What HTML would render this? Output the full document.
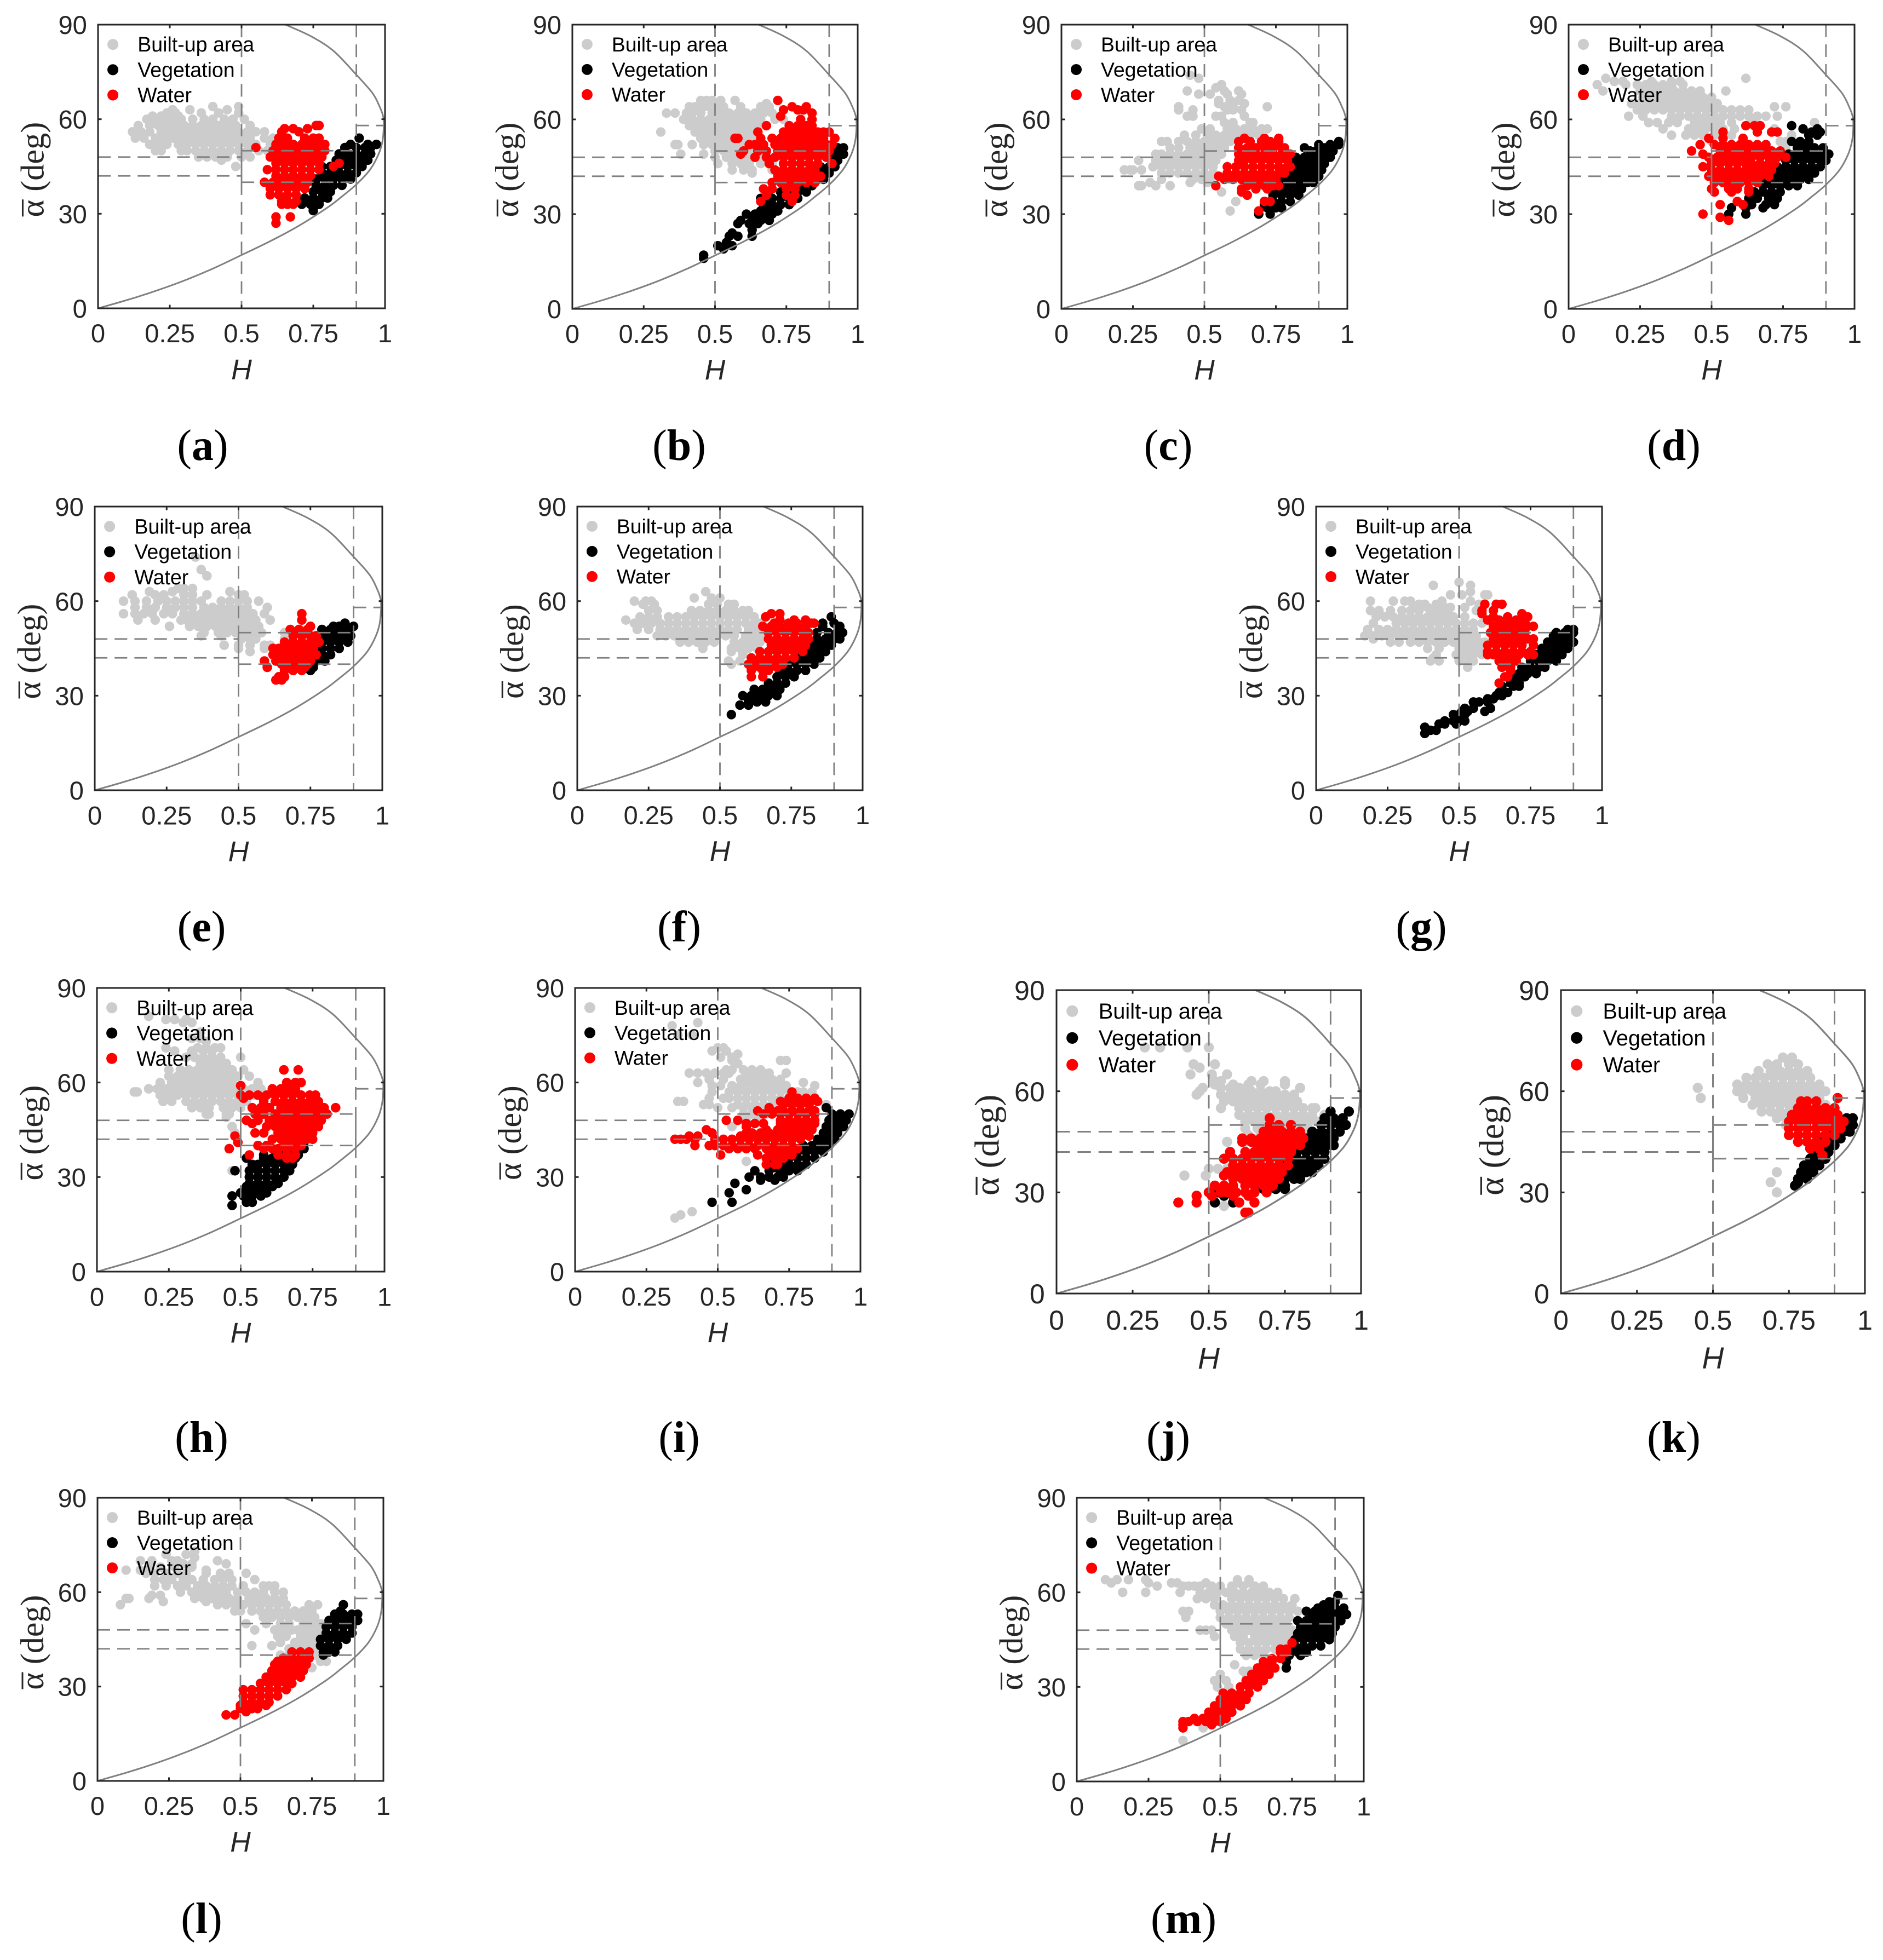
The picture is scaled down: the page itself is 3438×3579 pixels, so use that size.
<!DOCTYPE html>
<html><head><meta charset="utf-8"><title>H-alpha scatter panels</title>
<style>html,body{margin:0;padding:0;background:#fff}svg{display:block}</style></head>
<body>
<svg id="chart" xmlns="http://www.w3.org/2000/svg" width="3438" height="3579" viewBox="0 0 3438 3579"></svg>
<script>
// Every series is a flat list of pairs: H (x100), mean alpha (deg), H, alpha, ...
const builtA=[40,64,49,64,32,63,26,63,45,63,24,62,27,62,36,62,42,62,49,62,19,61,22,61,25,61,28,61,17,60,20,60,23,60,26,60,29,60,33,60,37,60,40,60,44,60,47,60,51,60,14,58,18,58,21,58,24,58,27,58,30,58,33,58,36,58,39,58,42,58,45,58,48,58,53,58,12,56,15,56,18,56,22,56,25,56,28,56,31,56,34,56,37,56,40,56,43,56,46,56,49,56,52,56,55,56,58,56,13,54,16,54,20,54,23,54,26,54,29,54,32,54,35,54,38,54,41,54,44,54,47,54,50,54,53,54,58,54,61,54,18,52,21,52,24,52,28,52,31,52,34,52,37,52,40,52,43,52,46,52,49,52,52,52,55,52,60,52,20,50,22,50,29,50,31,50,34,50,37,50,40,50,43,50,46,50,49,50,52,50,56,50,59,50,35,48,38,48,41,48,45,48,50,48,53,48,43,47,48,45];
const vegA=[91,54,88,52,94,52,97,52,86,51,90,51,93,51,95,51,84,49,87,49,90,49,93,49,95,49,83,47,86,47,89,47,92,47,94,47,78,45,81,45,84,45,87,45,90,45,92,45,78,43,81,43,84,43,87,43,90,43,76,41,79,41,82,41,85,41,88,41,76,39,79,39,82,39,85,39,75,37,78,37,81,37,72,35,75,35,78,35,80,35,71,33,74,33,77,33,75,31];
const waterA=[76,58,77,58,65,57,68,57,73,57,64,56,70,56,63,54,66,54,72,54,75,54,77,54,62,52,65,52,68,52,71,52,74,52,77,52,79,52,55,51,61,50,64,50,67,50,70,50,73,50,76,50,79,50,60,48,63,48,66,48,69,48,72,48,75,48,78,48,62,46,65,46,68,46,71,46,74,46,77,46,84,46,59,44,62,44,65,44,68,44,71,44,74,44,77,44,82,45,62,42,65,42,68,42,71,42,74,42,58,40,61,40,64,40,67,40,70,40,73,40,60,38,63,38,66,38,69,38,72,38,60,36,63,36,66,36,69,36,64,34,66,34,69,34,64,33,66,33,68,33,62,29,67,29,62,27];
const builtB=[45,66,47,66,49,66,52,66,57,66,47,65,68,65,41,64,43,64,46,64,48,64,51,64,53,64,59,64,66,64,69,64,33,62,36,62,40,62,42,62,45,62,49,62,52,62,55,62,58,62,61,62,64,62,67,62,70,62,39,60,42,60,45,60,48,60,51,60,54,60,57,60,60,60,63,60,66,60,71,60,74,60,41,58,44,58,47,58,50,58,53,58,56,58,59,58,62,58,65,58,68,58,31,56,43,56,46,56,49,56,52,56,55,56,58,56,61,56,64,56,45,54,48,54,51,54,54,54,57,54,60,54,63,54,36,52,37,52,42,52,46,52,49,52,52,52,55,52,58,52,61,52,66,52,50,50,53,50,56,50,59,50,63,50,38,49,46,49,50,48,54,48,57,48,60,48,63,48,66,48,51,46,56,46,59,46,62,46,66,46,70,46,56,44,60,44,63,44,70,44,63,43];
const vegB=[93,51,95,51,92,49,95,49,91,47,93,47,84,45,87,45,90,45,92,45,82,43,85,43,88,43,90,43,80,41,83,41,86,41,88,41,78,39,81,39,84,39,73,37,76,37,79,37,82,37,66,35,68,35,70,35,73,35,76,35,79,35,67,33,70,33,73,33,76,33,66,31,69,31,72,31,61,30,64,30,67,30,70,30,59,28,63,28,66,28,69,28,58,27,62,27,65,27,63,25,56,24,55,23,58,23,63,23,54,21,51,20,56,20,53,19,46,17,46,16];
const waterB=[72,66,77,64,82,64,74,63,79,63,81,63,84,62,73,61,80,60,84,60,68,58,76,58,79,58,82,58,84,58,65,56,74,56,77,56,80,56,83,56,86,56,88,56,90,56,57,54,58,54,66,54,70,54,73,54,76,54,79,54,82,54,85,54,88,54,92,54,62,52,64,52,67,52,71,52,74,52,77,52,80,52,83,52,86,52,89,52,91,52,60,50,65,50,68,50,72,50,75,50,78,50,81,50,84,50,87,50,90,50,59,49,64,48,68,48,71,48,74,48,77,48,80,48,83,48,86,48,89,48,69,46,74,46,77,46,80,46,83,46,86,46,91,46,71,44,74,44,77,44,80,44,83,44,85,44,72,42,75,42,78,42,81,42,84,42,87,42,70,40,73,40,76,40,79,40,82,40,85,40,67,38,70,38,75,38,78,38,68,36,75,36,78,36,66,34,77,34];
const builtC=[45,74,48,73,56,71,54,70,44,69,57,69,62,69,48,68,52,68,58,68,63,68,55,66,59,66,62,66,64,65,55,65,41,64,57,64,60,64,72,64,41,63,46,63,58,63,60,63,63,63,44,61,46,61,54,61,56,61,64,61,57,59,60,59,66,59,67,59,49,57,52,57,58,57,61,57,64,57,67,57,70,57,72,57,43,55,47,55,51,55,54,55,57,55,60,55,63,55,66,55,69,55,35,53,37,53,41,53,44,53,47,53,50,53,53,53,56,53,59,53,38,51,41,51,45,51,48,51,51,51,54,51,57,51,33,49,35,49,38,49,41,49,44,49,47,49,50,49,53,49,56,49,27,47,33,47,36,47,39,47,42,47,45,47,48,47,51,47,54,47,32,45,35,45,38,45,41,45,44,45,47,45,50,45,53,45,22,44,24,44,25,44,28,44,35,43,38,43,41,43,44,43,47,43,50,43,53,43,35,41,46,41,49,41,52,41,31,40,45,40,51,40,27,39,28,39,33,39,38,39,56,37,61,34,59,31];
const vegC=[97,53,90,52,94,52,97,52,85,51,92,51,95,51,87,50,89,50,92,50,95,50,82,48,85,48,88,48,91,48,94,48,81,46,84,46,87,46,90,46,92,46,79,44,82,44,85,44,88,44,91,44,78,42,81,42,84,42,87,42,90,42,77,40,80,40,83,40,86,40,88,40,75,38,78,38,81,38,84,38,74,36,77,36,80,36,83,36,71,34,74,34,77,34,80,34,71,33,72,32,75,32,77,32,69,30,73,30];
const waterC=[76,54,64,54,71,54,62,53,66,53,70,53,73,53,76,53,62,51,65,51,68,51,71,51,74,51,77,51,78,51,62,49,65,49,68,49,71,49,74,49,77,49,79,49,80,49,62,47,64,47,67,47,70,47,73,47,76,47,79,47,58,45,61,45,64,45,67,45,70,45,73,45,76,45,79,45,80,45,58,43,61,43,64,43,67,43,70,43,73,43,76,43,78,43,55,42,57,41,60,41,63,41,66,41,69,41,72,41,75,41,54,39,65,39,68,39,71,39,74,39,76,39,63,38,68,38,72,38,63,37,65,36,71,34,73,34,69,31];
const builtD=[13,73,62,73,16,72,19,72,29,72,36,72,39,72,10,71,20,71,24,71,27,71,30,71,33,71,36,71,40,71,12,69,25,69,28,69,31,69,34,69,37,69,40,69,43,69,46,69,55,69,26,67,29,67,32,67,35,67,38,67,41,67,44,67,47,67,50,67,22,65,25,65,28,65,31,65,34,65,37,65,40,65,43,65,46,65,49,65,52,65,72,64,76,64,24,63,27,63,30,63,33,63,36,63,39,63,42,63,45,63,48,63,51,63,54,63,57,63,60,63,63,63,21,61,26,61,36,61,39,61,42,61,45,61,48,61,51,61,54,61,57,61,60,61,63,61,66,61,73,61,69,61,28,59,31,59,35,59,38,59,44,59,47,59,50,59,53,59,57,59,64,59,65,59,86,59,33,57,42,57,45,57,48,57,51,57,54,57,58,57,72,57,36,55,41,55,44,55,47,55,51,55,57,55,84,55,78,55,50,53,74,53,76,53,76,51];
const vegD=[78,58,82,57,87,57,85,56,88,56,84,55,87,55,78,53,81,53,84,53,80,51,83,51,86,51,89,51,77,49,80,49,83,49,86,49,89,49,91,49,76,47,79,47,82,47,85,47,88,47,90,47,73,45,76,45,79,45,82,45,85,45,88,45,71,43,74,43,77,43,80,43,83,43,86,43,69,41,72,41,75,41,78,41,81,41,84,41,68,39,71,39,74,39,77,39,80,39,65,37,68,37,71,37,74,37,63,35,66,35,70,35,73,35,64,33,69,33,72,33,57,32,62,32,68,32,62,30,56,30];
const waterD=[65,58,62,58,67,58,71,56,73,56,66,56,54,56,54,54,61,54,49,54,46,52,51,52,54,52,57,52,60,52,63,52,66,52,69,52,43,50,53,50,56,50,59,50,62,50,65,50,68,50,71,50,74,50,47,49,49,48,52,48,55,48,58,48,61,48,64,48,67,48,70,48,73,48,76,48,50,46,53,46,56,46,59,46,62,46,64,46,67,46,70,46,72,46,47,45,50,44,53,44,56,44,59,44,62,44,65,44,68,44,71,44,49,42,52,42,55,42,58,42,61,42,64,42,67,42,70,42,51,40,54,40,57,40,60,40,63,40,66,40,50,38,56,38,59,38,63,38,51,37,57,37,63,37,59,34,61,33,53,33,47,30,53,29,56,28];
const builtE=[35,74,37,70,39,68,29,64,31,64,34,64,19,63,27,63,47,63,13,62,21,62,24,62,31,62,34,62,39,62,50,62,52,62,10,60,14,60,18,60,22,60,25,60,28,60,31,60,34,60,37,60,44,60,47,60,50,60,53,60,57,60,14,58,18,58,21,58,25,58,28,58,31,58,34,58,38,58,41,58,44,58,47,58,50,58,53,58,60,58,10,56,14,56,17,56,20,56,24,56,27,56,31,56,34,56,37,56,40,56,43,56,46,56,49,56,52,56,55,56,59,56,15,54,21,54,30,54,32,54,35,54,38,54,41,54,44,54,47,54,50,54,53,54,56,54,61,54,26,52,33,52,36,52,39,52,42,52,45,52,48,52,51,52,54,52,57,52,38,50,43,50,46,50,49,50,52,50,55,50,58,50,66,50,37,49,44,49,51,48,54,48,56,48,66,48,45,46,50,46,54,46,59,46,61,46,50,45,59,45,54,44];
const vegE=[87,53,83,52,85,52,90,52,79,51,82,51,85,51,88,51,77,49,80,49,83,49,86,49,89,49,76,47,79,47,82,47,85,47,88,47,76,45,79,45,82,45,85,45,76,43,79,43,82,43,74,41,77,41,80,41,73,39,76,39,75,38];
const waterE=[72,56,72,54,75,52,68,51,71,51,74,51,69,49,72,49,75,49,77,49,66,47,69,47,72,47,75,47,78,47,62,45,64,45,67,45,70,45,73,45,76,45,62,43,65,43,68,43,71,43,74,43,77,43,59,41,63,41,66,41,69,41,72,41,75,41,65,40,68,40,71,40,74,40,60,39,67,39,70,39,73,39,66,38,69,38,72,38,64,36,66,36,63,35,65,35];
const builtF=[45,63,41,61,47,61,50,61,20,60,24,60,26,60,23,59,27,59,46,59,49,59,53,59,55,59,25,57,28,57,40,57,43,57,46,57,49,57,52,57,55,57,58,57,60,57,22,55,25,55,28,55,32,55,35,55,38,55,41,55,44,55,47,55,50,55,53,55,56,55,59,55,62,55,17,54,20,53,23,53,26,53,29,53,32,53,35,53,38,53,41,53,44,53,47,53,50,53,53,53,56,53,59,53,62,53,64,53,21,51,25,51,29,51,32,51,35,51,38,51,41,51,44,51,47,51,50,51,53,51,56,51,60,51,63,51,28,49,31,49,34,49,37,49,40,49,43,49,46,49,49,49,52,49,55,49,59,49,62,49,65,49,36,47,39,47,42,47,45,47,48,47,55,47,58,47,61,47,64,47,44,46,44,45,54,45,57,45,60,45,63,45,54,44,58,43,53,41,57,41,54,40];
const vegF=[89,55,86,53,90,53,86,52,92,52,84,50,88,50,91,50,93,50,81,48,84,48,87,48,90,48,92,48,80,46,83,46,86,46,89,46,78,44,81,44,84,44,87,44,76,42,79,42,82,42,85,42,74,40,77,40,80,40,83,40,71,38,74,38,77,38,80,38,70,36,73,36,76,36,67,34,70,34,73,34,62,32,65,32,68,32,71,32,58,30,61,30,64,30,67,30,70,30,60,28,63,28,66,28,57,27,60,27,54,24];
const waterF=[68,56,71,56,66,55,71,54,76,54,80,54,69,53,74,53,77,53,83,53,82,53,65,52,68,52,71,52,74,52,77,52,80,52,67,50,70,50,73,50,76,50,79,50,81,50,67,48,70,48,73,48,76,48,79,48,81,48,68,46,71,46,74,46,77,46,80,46,64,44,67,44,70,44,73,44,76,44,79,44,61,42,64,42,67,42,70,42,73,42,76,42,60,40,63,40,66,40,69,40,72,40,61,39,64,39,67,39,70,39,61,38,65,38,67,38,61,36,65,36];
const builtG=[50,66,54,65,41,65,54,63,47,62,51,62,59,62,60,62,19,60,27,60,31,60,33,60,44,60,54,60,36,59,38,59,42,59,57,59,34,58,39,58,42,58,45,58,47,58,52,58,19,57,22,57,26,57,30,57,33,57,36,57,40,57,43,57,46,57,56,57,21,55,24,55,27,55,30,55,33,55,36,55,39,55,42,55,45,55,48,55,52,55,20,53,28,53,31,53,34,53,37,53,40,53,43,53,46,53,49,53,52,53,55,53,58,53,18,51,22,51,25,51,28,51,31,51,34,51,37,51,40,51,43,51,46,51,49,51,52,51,55,51,17,49,20,49,23,49,26,49,29,49,32,49,35,49,38,49,41,49,44,49,47,49,50,49,53,49,56,49,20,48,26,47,29,47,33,47,36,47,39,47,42,47,45,47,48,47,51,47,54,47,57,47,59,47,39,45,43,45,50,45,53,45,56,45,59,45,42,43,49,43,52,43,55,43,58,43,41,42,40,41,43,41,50,41,53,41,55,41,53,39];
const vegG=[88,51,90,51,84,50,87,50,90,50,83,49,86,49,89,49,81,47,84,47,87,47,90,47,79,45,82,45,85,45,88,45,77,43,80,43,83,43,86,43,75,41,78,41,81,41,84,41,72,39,75,39,78,39,80,39,71,37,74,37,77,37,70,36,73,36,68,34,71,34,65,33,69,33,71,33,64,31,67,31,63,30,65,30,60,29,62,29,55,28,57,28,60,28,52,26,55,26,61,26,51,25,53,25,59,25,48,24,50,24,52,24,45,22,48,22,50,22,52,22,43,21,45,21,49,21,38,20,42,19,40,19,38,18];
const waterG=[59,59,63,59,65,59,58,57,62,57,58,56,72,56,62,55,67,55,74,55,60,54,64,54,67,54,70,54,73,54,62,52,65,52,68,52,71,52,74,52,76,52,61,50,64,50,67,50,70,50,73,50,62,48,65,48,68,48,71,48,74,48,76,48,60,46,63,46,66,46,69,46,72,46,76,46,60,44,63,44,66,44,69,44,72,44,75,44,60,43,62,43,65,43,68,43,71,43,74,43,76,43,64,41,67,41,70,41,65,39,68,39,68,38,66,36,67,36,64,34];
const builtH=[18,81,24,80,27,80,31,80,30,79,33,79,36,76,33,74,36,74,38,73,24,71,35,71,38,71,41,71,43,71,27,70,33,70,37,70,40,70,31,68,34,68,37,68,40,68,43,68,50,68,36,66,39,66,42,66,45,66,25,64,29,64,32,64,35,64,38,64,41,64,44,64,47,64,51,64,25,62,28,62,31,62,34,62,37,62,40,62,43,62,46,62,49,62,53,62,22,60,26,60,29,60,32,60,35,60,38,60,41,60,44,60,47,60,56,60,18,58,21,58,24,58,27,58,30,58,33,58,36,58,39,58,42,58,45,58,48,58,51,58,54,58,57,58,13,57,14,57,22,56,25,56,28,56,31,56,34,56,37,56,40,56,43,56,46,56,49,56,52,56,55,56,23,54,26,54,31,54,34,54,37,54,40,54,43,54,46,54,49,54,52,54,33,52,36,52,39,52,44,52,47,52,50,52,38,50,39,50,45,50,46,50,45,49,47,46,48,44,47,32];
const vegH=[72,41,67,39,70,39,72,39,58,37,64,37,67,37,70,37,52,36,58,36,61,36,64,36,67,36,69,36,54,34,56,34,59,34,62,34,65,34,68,34,48,32,53,32,56,32,59,32,62,32,65,32,67,32,53,30,56,30,59,30,62,30,65,30,53,28,56,28,59,28,62,28,63,28,52,27,55,27,58,27,61,27,50,25,53,25,56,25,59,25,47,24,51,24,54,24,57,24,52,22,54,22,47,21];
const waterH=[65,64,70,64,66,60,69,60,71,60,50,59,61,58,64,58,67,58,69,58,53,56,50,56,56,56,59,56,62,56,65,56,68,56,71,56,74,56,76,56,51,55,58,54,62,54,65,54,68,54,71,54,74,54,77,54,54,52,57,52,60,52,64,52,67,52,70,52,73,52,76,52,79,52,83,52,55,50,58,50,62,50,65,50,68,50,71,50,74,50,77,50,80,50,52,48,56,48,60,48,63,48,66,48,69,48,72,48,75,48,78,48,54,47,59,46,62,46,65,46,68,46,71,46,74,46,77,46,55,44,58,44,63,44,66,44,69,44,72,44,75,44,48,43,61,42,64,42,67,42,70,42,73,42,75,42,49,41,56,40,59,40,65,40,68,40,71,40,46,39,58,39,61,39,63,39,66,39,69,39,53,37,63,37,66,37,69,37,66,36,68,36];
const builtI=[43,79,34,78,36,75,41,75,50,71,52,71,48,70,53,70,57,69,51,68,55,68,55,67,72,67,74,67,57,66,53,64,55,64,59,64,62,64,65,64,40,63,43,63,46,63,49,63,52,63,54,63,60,63,63,63,66,63,68,63,74,63,47,61,52,61,58,61,61,61,64,61,67,61,69,61,72,61,43,60,60,60,63,60,66,60,69,60,72,60,80,60,48,59,51,59,55,59,58,59,62,59,65,59,68,59,71,59,74,59,84,59,48,57,54,57,57,57,60,57,63,57,66,57,69,57,72,57,75,57,78,57,80,57,83,57,47,55,52,55,54,55,57,55,60,55,63,55,66,55,69,55,72,55,75,55,78,55,81,55,36,54,38,54,45,53,47,53,57,53,60,53,63,53,66,53,69,53,72,53,75,53,78,53,82,53,88,53,50,52,55,52,59,52,62,52,65,52,68,52,75,52,59,50,62,50,64,50,67,50,60,48,64,48,55,46,60,46,60,35,41,19,37,18,35,17];
const vegI=[88,52,90,50,93,50,96,50,89,48,92,48,95,48,88,46,91,46,94,46,87,44,90,44,92,44,85,42,88,42,91,42,80,40,83,40,86,40,89,40,78,38,81,38,84,38,87,38,68,36,75,36,78,36,81,36,84,36,72,34,75,34,78,34,81,34,70,33,73,33,76,33,79,33,63,32,68,32,72,32,75,32,78,32,61,30,65,30,68,30,71,30,73,30,65,29,70,29,56,28,60,26,54,25,55,22,48,22];
const waterI=[76,57,75,55,78,55,81,55,84,55,72,54,80,54,85,54,73,53,76,53,79,53,82,53,68,52,64,51,71,51,73,51,76,51,79,51,82,51,84,51,66,50,69,50,72,50,75,50,78,50,81,50,84,50,72,48,75,48,78,48,81,48,84,48,53,48,57,48,60,47,63,47,66,47,72,47,75,47,78,47,81,47,84,47,60,46,46,45,67,45,71,45,74,45,77,45,80,45,83,45,48,44,60,44,62,44,65,44,68,44,72,44,75,44,78,44,81,44,40,43,43,43,58,43,61,43,64,43,67,43,70,43,73,43,76,43,79,43,82,43,35,42,37,42,39,42,42,42,49,42,52,42,55,42,58,42,61,42,64,42,67,42,70,42,73,42,76,42,79,42,42,40,47,40,49,40,52,40,55,40,58,40,61,40,64,40,67,40,70,40,73,40,76,40,54,39,57,39,60,39,63,39,67,39,70,39,73,39,75,39,78,39,51,37,64,37,68,37,71,37,74,37,76,37,67,36,70,36,73,36,67,34,71,34,70,34];
const builtJ=[29,73,34,73,43,73,50,73,45,68,52,68,47,67,44,65,51,65,56,65,52,63,54,63,64,63,68,63,75,63,52,62,58,62,63,62,67,62,75,62,48,61,54,61,57,61,80,61,60,61,47,60,59,60,61,60,64,60,67,60,70,60,72,60,46,59,54,59,57,59,60,59,63,59,66,59,69,59,72,59,75,59,78,59,55,57,58,57,61,57,64,57,67,57,70,57,73,57,76,57,79,57,54,55,60,55,63,55,66,55,69,55,72,55,75,55,78,55,81,55,84,55,85,55,60,53,63,53,66,53,69,53,72,53,75,53,78,53,81,53,84,53,88,53,62,51,65,51,68,51,71,51,74,51,77,51,80,51,83,51,86,51,62,49,66,49,70,49,73,49,76,49,79,49,82,49,63,47,67,47,70,47,80,47,56,45,62,45,50,37,53,37,56,37,49,35,42,35,55,26];
const vegJ=[90,54,96,54,88,52,91,52,94,52,87,50,90,50,93,50,95,50,84,48,87,48,90,48,93,48,82,46,85,46,88,46,91,46,80,44,83,44,86,44,89,44,91,44,79,42,82,42,85,42,88,42,76,40,79,40,82,40,85,40,88,40,74,38,77,38,80,38,83,38,86,38,73,36,76,36,79,36,82,36,84,36,72,34,75,34,78,34,80,34,68,32,72,32,75,32,68,31,72,31,75,31,53,30,58,30,65,30,55,29,52,27,58,27];
const waterJ=[70,52,70,50,73,50,77,50,68,48,71,48,74,48,77,48,80,48,61,46,64,46,67,46,70,46,73,46,76,46,79,46,81,46,61,45,64,45,66,44,69,44,72,44,75,44,78,44,80,44,57,42,62,42,65,42,68,42,71,42,74,42,77,42,55,40,58,40,61,40,64,40,67,40,70,40,73,40,76,40,58,38,61,38,64,38,67,38,70,38,73,38,76,38,56,36,59,36,62,36,65,36,68,36,71,36,74,36,55,35,58,34,61,34,64,34,67,34,70,34,73,34,52,32,55,32,58,32,62,32,65,32,68,32,71,32,50,30,54,30,56,30,59,30,62,30,65,30,69,30,46,29,51,29,58,29,63,29,40,27,46,27,60,27,65,27,62,24,63,24];
const builtK=[73,70,76,70,68,68,71,68,75,68,78,68,65,66,69,66,72,66,75,66,78,66,81,66,61,64,64,64,67,64,70,64,73,64,76,64,79,64,82,64,58,62,61,62,64,62,67,62,70,62,73,62,76,62,79,62,82,62,85,62,45,61,58,60,60,60,63,60,66,60,69,60,72,60,75,60,78,60,81,60,84,60,87,60,46,58,60,58,64,58,67,58,70,58,73,58,76,58,79,58,82,58,85,58,63,56,66,56,69,56,72,56,75,56,78,56,81,56,84,56,87,56,66,54,69,54,72,54,75,54,78,54,88,54,90,54,71,52,74,52,77,52,91,52,74,50,78,50,80,48,69,33,71,36,71,30];
const vegK=[94,52,96,52,92,50,94,50,96,50,88,48,91,48,93,48,95,48,87,46,90,46,92,46,84,44,87,44,90,44,83,42,86,42,88,42,82,40,85,40,87,40,80,38,83,38,85,38,79,36,81,36,83,36,78,34,81,34,78,33,77,32];
const waterK=[91,58,79,57,81,57,84,57,78,55,81,55,84,55,87,55,90,55,76,53,79,53,82,53,85,53,88,53,91,53,75,51,78,51,81,51,84,51,87,51,90,51,93,51,75,49,78,49,81,49,84,49,87,49,90,49,92,49,75,47,78,47,81,47,84,47,87,47,90,47,78,45,81,45,84,45,87,45,82,43,85,43,86,41];
const builtL=[34,73,24,72,31,72,34,71,15,70,19,70,26,70,28,70,42,70,30,69,33,69,45,69,18,68,22,68,27,68,33,68,10,67,15,67,38,67,17,66,20,66,24,66,28,66,31,66,38,66,43,66,46,66,52,66,20,64,23,64,26,64,30,64,33,64,37,64,41,64,44,64,47,64,55,64,20,62,24,62,28,62,31,62,35,62,38,62,41,62,44,62,47,62,51,62,58,62,60,62,62,62,29,60,33,60,36,60,39,60,42,60,45,60,49,60,52,60,55,60,58,60,62,60,65,60,19,59,22,59,44,59,10,58,11,58,18,58,34,58,37,58,40,58,43,58,46,58,49,58,53,58,56,58,59,58,62,58,65,58,23,57,38,57,8,56,42,56,45,56,48,56,51,56,54,56,57,56,60,56,63,56,66,56,74,56,77,56,48,54,50,54,54,54,57,54,60,54,63,54,66,54,69,54,72,54,75,54,58,52,61,52,64,52,67,52,70,52,73,52,76,52,52,50,59,50,64,50,67,50,72,50,75,50,78,50,55,48,62,48,65,48,68,48,70,48,73,48,76,48,79,48,63,46,66,46,71,46,74,46,77,46,80,46,64,44,69,44,72,44,75,44,78,44,80,44,54,43,61,43,67,42,70,42,73,42,76,42,79,42,64,40,67,40,70,40,73,40,76,40,79,40,73,38,78,38,80,38,70,36,75,36,61,34,67,30];
const vegL=[86,56,85,54,83,53,86,53,89,53,91,53,81,51,84,51,87,51,90,51,91,51,80,49,83,49,86,49,89,49,80,47,83,47,86,47,89,47,78,45,81,45,84,45,87,45,78,43,81,43,84,43,79,41,81,41,83,41,79,40];
const waterL=[68,41,71,41,74,41,65,39,68,39,71,39,74,39,63,38,66,38,69,38,72,38,62,37,65,37,68,37,71,37,73,37,61,35,64,35,67,35,70,35,72,35,59,33,62,33,65,33,68,33,71,33,57,31,60,31,63,31,66,31,68,31,51,29,54,29,57,29,60,29,63,29,66,29,51,27,54,27,57,27,60,27,63,27,51,25,54,25,57,25,60,25,50,24,53,24,56,24,59,24,50,23,52,23,54,23,56,23,52,22,45,21,48,21];
const builtM=[10,64,14,64,18,64,24,64,60,64,56,64,12,63,25,63,33,63,35,63,45,63,56,63,60,63,28,62,37,62,39,62,41,62,43,62,47,62,50,62,54,62,58,62,62,62,65,62,16,60,24,60,36,60,43,60,46,60,49,60,52,60,55,60,58,60,61,60,64,60,67,60,70,60,42,58,45,58,48,58,54,58,57,58,60,58,63,58,66,58,69,58,72,58,76,58,48,56,51,56,54,56,57,56,60,56,63,56,66,56,69,56,72,56,75,56,37,54,39,54,50,54,53,54,56,54,59,54,62,54,65,54,68,54,71,54,74,54,77,54,38,52,50,52,53,52,56,52,59,52,62,52,65,52,68,52,71,52,74,52,52,50,55,50,58,50,61,50,64,50,67,50,70,50,73,50,43,48,45,48,47,48,54,48,57,48,60,48,63,48,66,48,69,48,72,48,75,48,48,46,55,46,58,46,62,46,65,46,68,46,71,46,74,46,57,44,60,44,63,44,66,44,69,44,72,44,57,42,60,42,63,42,66,42,69,42,59,40,62,40,65,40,55,37,58,35,60,35,50,34,59,34,48,32,52,32,49,30,53,30,44,17,37,13];
const vegM=[91,59,88,57,90,57,86,56,84,55,87,55,90,55,93,55,80,54,83,54,90,54,93,54,82,53,85,53,88,53,91,53,94,53,77,51,80,51,83,51,86,51,89,51,92,51,78,49,81,49,84,49,87,49,90,49,77,47,80,47,83,47,86,47,89,47,76,45,79,45,82,45,85,45,88,45,76,43,79,43,82,43,85,43,74,41,77,41,80,41,74,40,78,40,73,38,73,36];
const waterM=[75,44,71,42,73,42,71,41,73,41,68,39,71,39,65,38,68,38,63,36,66,36,69,36,61,34,64,34,67,34,59,32,62,32,65,32,57,30,60,30,63,30,51,28,54,28,57,28,60,28,50,26,53,26,56,26,59,26,48,24,51,24,54,24,57,24,46,22,49,22,52,22,54,22,41,20,44,20,47,20,50,20,52,20,37,19,39,19,42,19,45,19,48,19,50,19,37,18,47,18,37,17];

const xTickValues=[0,0.25,0.5,0.75,1];
const xTickLabels=['0','0.25','0.5','0.75','1'];
const yTickValues=[0,30,60,90];
const yTickLabels=['0','30','60','90'];
const legendLabels=['Built-up area','Vegetation','Water'];
const seriesColors=['#cccccc','#000000','#ff0000'];
const boundaryH=[0,0.1,0.2,0.3,0.4,0.5,0.6,0.7,0.8,0.85,0.9,0.947,0.977,0.991,0.996,0.994,0.984,0.957,0.9,0.82,0.74,0.653];
const boundaryAlpha=[0,2.6,5.5,8.8,12.6,16.9,21.3,26.2,32,35.5,39.3,43.9,48.8,53,58,60.7,63.4,68.2,74.1,81.7,86.4,90];

const panelLayout=[
 {id:'a',l:179,t:45,w:524,h:518,cx:370,cy:840,s:[builtA,vegA,waterA]},
 {id:'b',l:1045,t:45,w:521,h:519,cx:1240,cy:840,s:[builtB,vegB,waterB]},
 {id:'c',l:1938,t:45,w:522,h:519,cx:2133,cy:840,s:[builtC,vegC,waterC]},
 {id:'d',l:2864,t:45,w:522,h:519,cx:3056,cy:840,s:[builtD,vegD,waterD]},
 {id:'e',l:173,t:925,w:525,h:518,cx:368,cy:1719,s:[builtE,vegE,waterE]},
 {id:'f',l:1054,t:925,w:521,h:518,cx:1240,cy:1719,s:[builtF,vegF,waterF]},
 {id:'g',l:2403,t:925,w:522,h:518,cx:2595,cy:1719,s:[builtG,vegG,waterG]},
 {id:'h',l:177,t:1804,w:525,h:518,cx:368,cy:2651,s:[builtH,vegH,waterH]},
 {id:'i',l:1050,t:1804,w:521,h:518,cx:1240,cy:2651,s:[builtI,vegI,waterI]},
 {id:'j',l:1929,t:1808,w:556,h:554,cx:2133,cy:2651,s:[builtJ,vegJ,waterJ]},
 {id:'k',l:2850,t:1808,w:555,h:554,cx:3056,cy:2651,s:[builtK,vegK,waterK]},
 {id:'l',l:178,t:2735,w:522,h:517,cx:368,cy:3530,s:[builtL,vegL,waterL]},
 {id:'m',l:1966,t:2735,w:524,h:518,cx:2161,cy:3530,s:[builtM,vegM,waterM]}
];

const NS='http://www.w3.org/2000/svg';
const root=document.getElementById('chart');
function mk(tag,parent,attrs){
  const el=document.createElementNS(NS,tag);
  for(const k in attrs) el.setAttribute(k,attrs[k]);
  parent.appendChild(el);
  return el;
}
function splinePath(pts){
  let d='M'+pts[0][0].toFixed(1)+' '+pts[0][1].toFixed(1);
  for(let i=0;i<pts.length-1;i++){
    const p0=pts[Math.max(i-1,0)],p1=pts[i],p2=pts[i+1],p3=pts[Math.min(i+2,pts.length-1)];
    d+=' C'+(p1[0]+(p2[0]-p0[0])/6).toFixed(1)+' '+(p1[1]+(p2[1]-p0[1])/6).toFixed(1)+' '+(p2[0]-(p3[0]-p1[0])/6).toFixed(1)+' '+(p2[1]-(p3[1]-p1[1])/6).toFixed(1)+' '+p2[0].toFixed(1)+' '+p2[1].toFixed(1);
  }
  return d;
}
const seriesNames=['built-up','vegetation','water'];
panelLayout.forEach(function(p){
  const k=p.w/522;
  const xs=function(h){return p.l+h*p.w;};
  const ys=function(a){return p.t+p.h-a/90*p.h;};
  const g=mk('g',root,{});
  
  

  // scatter points
  p.s.forEach(function(arr,si){
    const sg=mk('g',g,{fill:seriesColors[si]});
    
    
    for(let i=0;i<arr.length;i+=2){
      const c=mk('circle',sg,{cx:xs(arr[i]/100).toFixed(1),cy:ys(arr[i+1]).toFixed(1),r:(8.7*k).toFixed(1)});
      
      
    }
  });

  // zone guide lines
  const guide=function(h1,a1,h2,a2,dash,name){
    const ln=mk('line',g,{x1:xs(h1),y1:ys(a1),x2:xs(h2),y2:ys(a2),stroke:'#808080','stroke-width':2.8*k,'stroke-dasharray':dash?(23*k)+' '+(13*k):'none'});
    
    
  };
  guide(0.5,90,0.5,50,true,'zone-line-h-05-upper');
  guide(0.5,50,0.5,40,false,'zone-line-h-05-box');
  guide(0.5,40,0.5,0,true,'zone-line-h-05-lower');
  guide(0.9,90,0.9,50,true,'zone-line-h-09-upper');
  guide(0.9,50,0.9,40,false,'zone-line-h-09-box');
  guide(0.9,40,0.9,0,true,'zone-line-h-09-lower');
  guide(0,48,0.5,48,true,'zone-line-alpha-48');
  guide(0,42,0.5,42,true,'zone-line-alpha-42');
  guide(0.5,50,0.9,50,true,'zone-line-alpha-50');
  guide(0.5,40,0.9,40,true,'zone-line-alpha-40');
  guide(0.9,58,1,58,true,'zone-line-alpha-58');

  // feasibility boundary
  const pts=boundaryH.map(function(h,i){return [xs(h),ys(boundaryAlpha[i])];});
  const curve=mk('path',g,{d:splinePath(pts),fill:'none',stroke:'#808080','stroke-width':3*k});
  
  

  // axes box
  const box=mk('rect',g,{x:p.l,y:p.t,width:p.w,height:p.h,fill:'none',stroke:'#262626','stroke-width':3});
  
  

  // x ticks
  xTickValues.forEach(function(v,i){
    [[p.t+p.h,-6.5],[p.t,6.5]].forEach(function(e){
      const t=mk('line',g,{x1:xs(v),y1:e[0],x2:xs(v),y2:e[0]+e[1],stroke:'#262626','stroke-width':3});
      
      
    });
    const tx=mk('text',g,{x:xs(v),y:p.t+p.h+62*k,'text-anchor':'middle','font-family':'"Liberation Sans",sans-serif','font-size':47*k,fill:'#262626'});
    tx.textContent=xTickLabels[i];
    
    
  });
  // y ticks
  yTickValues.forEach(function(v,i){
    [[p.l,6.5],[p.l+p.w,-6.5]].forEach(function(e){
      const t=mk('line',g,{x1:e[0],y1:ys(v),x2:e[0]+e[1],y2:ys(v),stroke:'#262626','stroke-width':3});
      
      
    });
    const ty=mk('text',g,{x:p.l-20*k,y:ys(v)+17*k,'text-anchor':'end','font-family':'"Liberation Sans",sans-serif','font-size':47*k,fill:'#262626'});
    ty.textContent=yTickLabels[i];
    
    
  });

  // axis titles
  const xt=mk('text',g,{x:xs(0.5),y:p.t+p.h+129*k,'text-anchor':'middle','font-family':'"Liberation Sans",sans-serif','font-size':52*k,'font-style':'italic',fill:'#262626'});
  xt.textContent='H';
  
  

  const yg=mk('g',g,{transform:'translate('+(p.l-99*k)+','+(p.t+p.h/2+92*k)+') rotate(-90)'});
  
  
  const yt=mk('text',yg,{x:0,y:0,'font-family':'"Liberation Serif",serif','font-size':60*k,fill:'#262626','xml:space':'preserve'});
  yt.textContent='α  (deg)';
  const ov=mk('line',yg,{x1:1*k,y1:-38*k,x2:32*k,y2:-38*k,stroke:'#262626','stroke-width':3*k});
  
  

  // legend
  legendLabels.forEach(function(lab,i){
    const yy=p.t+(36+46*i)*k;
    const m=mk('circle',g,{cx:p.l+27*k,cy:yy,r:10*k,fill:seriesColors[i]});
    
    
    const t=mk('text',g,{x:p.l+72*k,y:yy+13*k,'font-family':'"Liberation Sans",sans-serif','font-size':37.4*k,fill:'#000'});
    t.textContent=lab;
    
    
  });

  // caption
  const cap=mk('text',root,{x:p.cx,y:p.cy,'text-anchor':'middle','font-family':'"Liberation Serif",serif','font-size':80,fill:'#000'});
  
  
  const s1=mk('tspan',cap,{});
  s1.textContent='(';
  const s2=mk('tspan',cap,{'font-weight':'bold'});
  s2.textContent=p.id;
  const s3=mk('tspan',cap,{});
  s3.textContent=')';
});
</script>
</body></html>
